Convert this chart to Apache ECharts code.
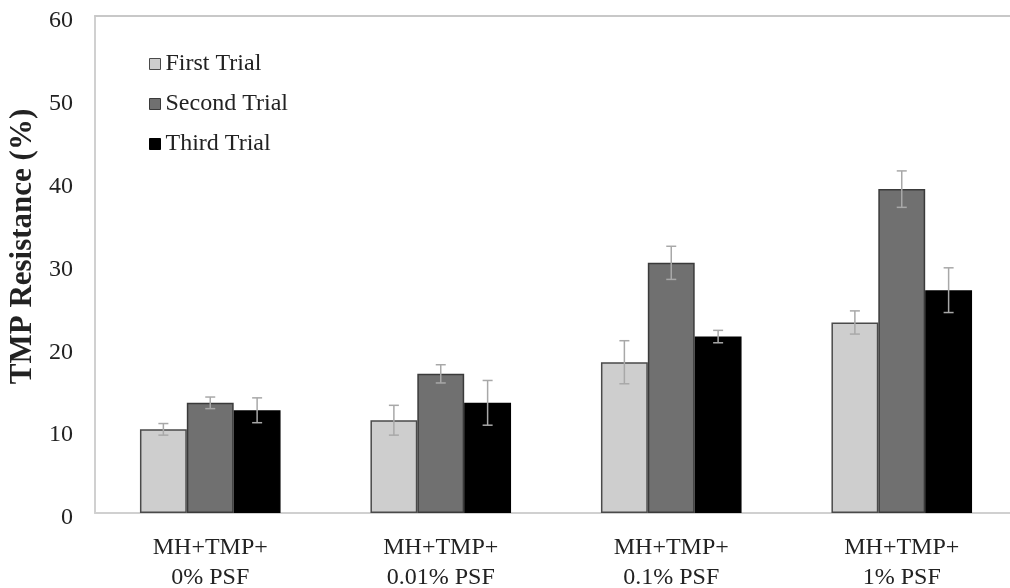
<!DOCTYPE html>
<html><head><meta charset="utf-8">
<script src="https://cdn.jsdelivr.net/npm/echarts@6/dist/echarts.min.js"></script>
<style>html,body{margin:0;padding:0;background:#fff}#c{width:1010px;height:588px}</style>
</head><body><div id="c"></div>
<script>
var categories = ['MH+TMP+\n0% PSF', 'MH+TMP+\n0.01% PSF', 'MH+TMP+\n0.1% PSF', 'MH+TMP+\n1% PSF'];
var seriesNames = ['First Trial', 'Second Trial', 'Third Trial'];
var firstTrial = [10.1, 11.2, 18.2, 23.0];
var secondTrial = [13.3, 16.8, 30.2, 39.1];
var thirdTrial = [12.4, 13.3, 21.3, 26.9];
var firstErr = [0.7, 1.8, 2.6, 1.4];
var secondErr = [0.7, 1.1, 2.0, 2.2];
var thirdErr = [1.5, 2.7, 0.75, 2.7];
var yTicks = [0, 10, 20, 30, 40, 50, 60];

var fills = ['#cecece', '#707070', '#000000'];
var borders = ['#4a4a4a', '#3a3a3a', '#000000'];
var values = [firstTrial, secondTrial, thirdTrial];
var errs = [firstErr, secondErr, thirdErr];
var font = '"Liberation Serif", "DejaVu Serif", serif';

var chart = echarts.init(document.getElementById('c'));
var series = [];
values.forEach(function (vals, k) {
  series.push({
    name: seriesNames[k], type: 'bar', data: vals,
    barGap: '0%', barCategoryGap: '39%',
    itemStyle: { color: fills[k], borderColor: borders[k], borderWidth: 1.5 },
    z: 2
  });
});
values.forEach(function (vals, k) {
  var data = vals.map(function (v, i) { return [i, v - errs[k][i], v + errs[k][i]]; });
  series.push({
    type: 'custom', name: seriesNames[k] + ' err', data: data, z: 5,
    renderItem: function (params, api) {
      var idx = api.value(0);
      var lo = api.coord([idx, api.value(1)]);
      var hi = api.coord([idx, api.value(2)]);
      var band = api.size([1, 0])[0];
      var bw = band * 0.61 / 3;
      var x = lo[0] + (k - 1) * bw;
      var cap = 5;
      var st = { stroke: '#a8a8a8', lineWidth: 1.5 };
      return { type: 'group', children: [
        { type: 'line', shape: { x1: x, y1: lo[1], x2: x, y2: hi[1] }, style: st },
        { type: 'line', shape: { x1: x - cap, y1: lo[1], x2: x + cap, y2: lo[1] }, style: st },
        { type: 'line', shape: { x1: x - cap, y1: hi[1], x2: x + cap, y2: hi[1] }, style: st }
      ] };
    },
    encode: { x: 0, y: [1, 2] },
    silent: true
  });
});

chart.setOption({
  animation: false,
  backgroundColor: '#fff',
  grid: { left: 95, top: 16, width: 922, height: 497, outerBoundsMode: 'none', containLabel: false },
  legend: {
    data: seriesNames.map(function (n, k) { return { name: n, itemStyle: { color: fills[k], borderColor: borders[k], borderWidth: 1 } }; }),
    orient: 'vertical', left: 144, top: 47, itemGap: 16, itemWidth: 11, itemHeight: 11, icon: 'rect',
    textStyle: { fontFamily: font, fontSize: 24, lineHeight: 24, color: '#222' }
  },
  xAxis: [{
    type: 'category', data: categories,
    axisLine: { lineStyle: { color: '#d0d0d0', width: 2 } },
    axisTick: { show: false },
    axisLabel: { fontFamily: font, fontSize: 24, color: '#222', margin: 20, lineHeight: 30, interval: 0 }
  }, {
    type: 'category', data: categories, position: 'top',
    axisLine: { show: true, lineStyle: { color: '#c8c8c8', width: 2 } },
    axisTick: { show: false }, axisLabel: { show: false }
  }],
  yAxis: {
    type: 'value', min: 0, max: 60, interval: 10,
    name: 'TMP Resistance (%)', nameLocation: 'middle', nameGap: 56, nameRotate: 90,
    nameTextStyle: { fontFamily: font, fontSize: 31, fontWeight: 'bold', color: '#222', padding: [0, 0, 0, 36] },
    axisLine: { show: true, lineStyle: { color: '#d0d0d0', width: 2 } },
    axisTick: { show: false },
    splitLine: { show: false },
    axisLabel: { fontFamily: font, fontSize: 24, color: '#222', margin: 22, verticalAlign: 'top', lineHeight: 10 }
  },
  series: series
});
</script></body></html>
